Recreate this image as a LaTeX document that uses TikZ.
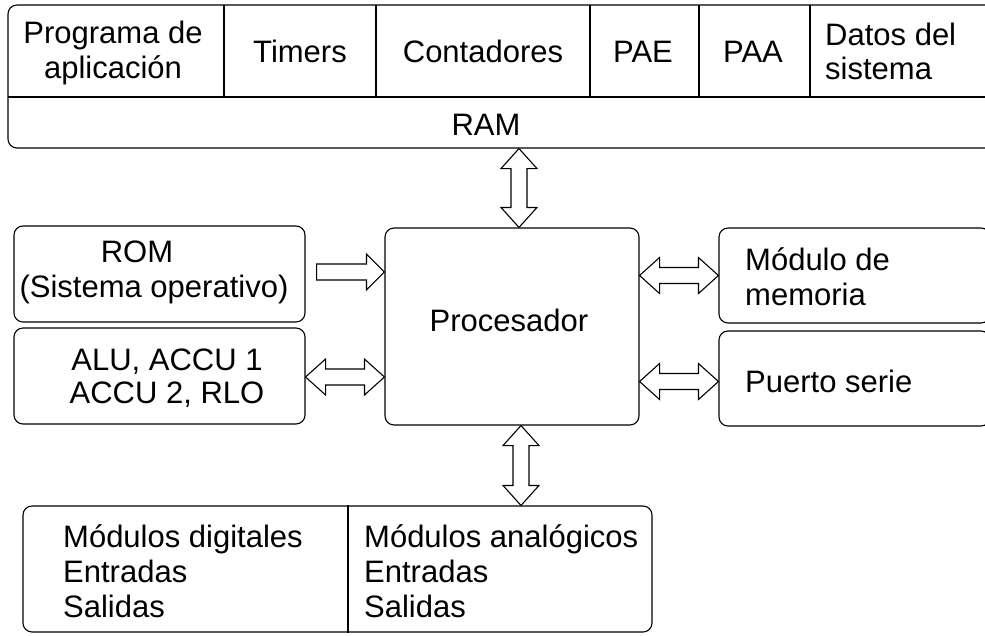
\documentclass[tikz,border=0pt]{standalone}
\usepackage{fontspec}
\setmainfont{Liberation Sans}
\usetikzlibrary{calc}
\tikzset{
  box/.style={draw, line width=1.1pt, rounded corners=9pt, inner sep=0pt},
  blk/.style={draw, line width=1.1pt, fill=white, line join=miter},
  txt/.style={inner sep=0pt, anchor=base},
  ltxt/.style={inner sep=0pt, anchor=base west},
  rule/.style={line width=1.1pt}
}
\newcommand\HDbl[2]{%
  \draw[blk] let \p1=#1, \p2=#2 in
  (\x1,\y1) -- (\x1+20pt,\y1+18pt) -- (\x1+20pt,\y1+8pt) -- (\x2-20pt,\y1+8pt) -- (\x2-20pt,\y1+18pt)
  -- (\x2,\y1) -- (\x2-20pt,\y1-18pt) -- (\x2-20pt,\y1-8pt) -- (\x1+20pt,\y1-8pt) -- (\x1+20pt,\y1-18pt) -- cycle;}
\newcommand\HSgl[2]{%
  \draw[blk] let \p1=#1, \p2=#2 in
  (\x1,\y1+8pt) -- (\x2-18pt,\y1+8pt) -- (\x2-18pt,\y1+18pt)
  -- (\x2,\y1) -- (\x2-18pt,\y1-18pt) -- (\x2-18pt,\y1-8pt) -- (\x1,\y1-8pt) -- cycle;}
\newcommand\VDbl[2]{%
  \draw[blk] let \p1=#1, \p2=#2 in
  (\x1,\y1) -- (\x1+18pt,\y1-20pt) -- (\x1+8pt,\y1-20pt) -- (\x1+8pt,\y2+20pt) -- (\x1+18pt,\y2+20pt)
  -- (\x1,\y2) -- (\x1-18pt,\y2+20pt) -- (\x1-8pt,\y2+20pt) -- (\x1-8pt,\y1-20pt) -- (\x1-18pt,\y1-20pt) -- cycle;}
\begin{document}
\begin{tikzpicture}[x=1pt, y=-1pt, font=\fontsize{31}{35}\selectfont]
\useasboundingbox (0,0) rectangle (985,635);
\clip (0,0) rectangle (985,635);
% RAM block
\node[box, minimum width=987pt, minimum height=143pt] (ramblk) at (501.5,76.5) {};
\draw[rule] (8,97) -- (996,97);
\draw[rule] (224,5) -- (224,97);
\draw[rule] (376,5) -- (376,97);
\draw[rule] (590,5) -- (590,97);
\draw[rule] (699,5) -- (699,97);
\draw[rule] (810,5) -- (810,97);
\node[txt] (t1a) at (113,43) {Programa de};
\node[txt] (t1b) at (113,78) {aplicación};
\node[txt] (t2) at (300,62) {Timers};
\node[txt] (t3) at (483,62) {Contadores};
\node[txt] (t4) at (643,62) {PAE};
\node[txt] (t5) at (753,62) {PAA};
\node[ltxt] (t6a) at (825,45) {Datos del};
\node[ltxt] (t6b) at (825,79) {sistema};
\node[txt] (tram) at (486,135) {RAM};
% boxes
\node[box, minimum width=254pt, minimum height=197pt] (proc) at (512,326.5) {};
\node[txt] (tproc) at (509,331) {Procesador};
\node[box, minimum width=291pt, minimum height=96pt] (rom) at (159.5,274) {};
\node[txt] (trom1) at (137,262) {ROM};
\node[txt] (trom2) at (154,297) {(Sistema operativo)};
\node[box, minimum width=291pt, minimum height=96pt] (alu) at (159.5,376) {};
\node[txt] (talu1) at (167,370) {ALU, ACCU 1};
\node[txt] (talu2) at (167,403) {ACCU 2, RLO};
\node[box, minimum width=271pt, minimum height=95pt] (mem) at (854.5,275.5) {};
\node[ltxt] (tmem1) at (745,270) {Módulo de};
\node[ltxt] (tmem2) at (745,305) {memoria};
\node[box, minimum width=271pt, minimum height=95pt] (ps) at (854.5,378.5) {};
\node[ltxt] (tps) at (745,392) {Puerto serie};
\node[box, minimum width=629pt, minimum height=126pt] (bot) at (337.5,569) {};
\draw[rule] (bot.north -| 348,0) -- (bot.south -| 348,0);
\node[ltxt] (tb1) at (63,547) {Módulos digitales};
\node[ltxt] (tb2) at (63,582) {Entradas};
\node[ltxt] (tb3) at (63,617) {Salidas};
\node[ltxt] (tb4) at (364,547) {Módulos analógicos};
\node[ltxt] (tb5) at (364,582) {Entradas};
\node[ltxt] (tb6) at (364,617) {Salidas};
% arrows
\coordinate (ctop) at ($(proc.north)+(7,0)$);
\VDbl{(ctop |- ramblk.south)}{(ctop)}
\coordinate (cbot) at ($(proc.south)+(9,0)$);
\VDbl{(cbot)}{(cbot |- bot.north)}
\HSgl{($(rom.east)+(11,-2)$)}{($(proc.west |- rom.east)+(0,-2)$)}
\HDbl{($(alu.east)+(0,1)$)}{($(proc.west |- alu.east)+(0,1)$)}
\HDbl{(proc.east |- mem.west)}{(mem.west)}
\HDbl{($(proc.east |- ps.west)+(0,3)$)}{($(ps.west)+(0,3)$)}
\end{tikzpicture}
\end{document}
